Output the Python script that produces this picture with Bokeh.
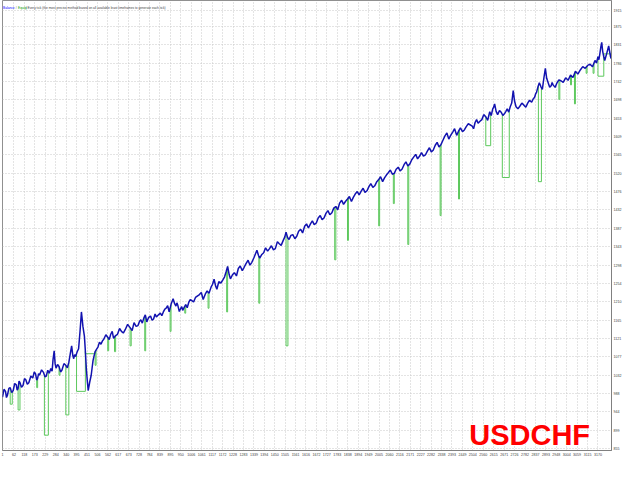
import numpy as np
from bokeh.plotting import figure
from bokeh.models import Range1d, FixedTicker, Label
from bokeh.embed import file_html
from bokeh.resources import INLINE

# ---- data ----
bal_trade = [
    1, 9, 17, 22, 27, 35, 42, 50, 58, 66, 74, 79, 84, 89, 94, 102, 110, 118, 125, 133,
    141, 152, 162, 170, 177, 183, 188, 193, 198, 209, 219, 227, 234, 242, 250, 258, 265, 270, 276, 281,
    286, 294, 302, 310, 317, 328, 338, 346, 354, 362, 369, 375, 380, 385, 390, 398, 406, 414, 421, 429,
    437, 442, 447, 452, 457, 465, 473, 478, 483, 489, 494, 502, 509, 517, 525, 533, 540, 551, 561, 569,
    577, 585, 592, 603, 613, 624, 634, 644, 654, 667, 680, 691, 701, 712, 722, 730, 737, 745, 753, 761,
    769, 779, 789, 797, 805, 813, 820, 831, 841, 849, 857, 865, 872, 880, 888, 899, 909, 917, 924, 929,
    934, 942, 950, 955, 960, 968, 976, 984, 992, 1000, 1007, 1018, 1028,
    1049, 1059, 1069, 1080, 1090, 1100, 1111, 1119, 1127, 1135, 1142, 1152, 1163, 1173, 1183, 1191, 1199, 1207, 1214, 1225,
    1235, 1246, 1256, 1266, 1277, 1287, 1297, 1308, 1318, 1328, 1339, 1347, 1355, 1363, 1370, 1381, 1391, 1401, 1412, 1422,
    1432, 1443, 1453, 1464, 1474, 1484, 1495, 1503, 1510, 1518, 1526, 1536, 1546, 1557, 1567, 1577, 1588, 1598, 1609, 1619,
    1629, 1640, 1650, 1660, 1671, 1681, 1692, 1702, 1712, 1723, 1733, 1743, 1754, 1764, 1775, 1785, 1795, 1806, 1816, 1826,
    1837, 1847, 1858, 1868, 1878, 1889, 1899, 1910, 1920, 1930, 1941, 1951, 1961, 1972, 1982, 1993, 2003, 2013, 2024, 2034,
    2044, 2055, 2065, 2076, 2086, 2096, 2107, 2117, 2127, 2138, 2148, 2158, 2169, 2179, 2190, 2200, 2210, 2221, 2231, 2241,
    2252, 2262, 2273, 2283, 2293, 2304, 2314, 2324, 2335, 2345, 2355, 2366, 2376, 2386, 2397, 2407, 2418, 2428, 2438, 2449,
    2459, 2469, 2480,
    2501, 2508, 2516, 2524, 2532, 2542, 2552, 2562, 2573, 2583, 2594, 2602, 2610, 2615, 2620, 2628, 2636, 2646, 2656, 2664,
    2672, 2680, 2687, 2695, 2703, 2711, 2719, 2726, 2734, 2744, 2755, 2765, 2776, 2786, 2796, 2806, 2817, 2825, 2833, 2838,
    2843, 2850, 2858, 2866, 2874, 2882, 2890, 2897, 2905, 2913, 2921, 2926, 2931, 2942, 2952, 2962, 2973, 2985, 2998, 3011,
    3024, 3037, 3050, 3063, 3076, 3089, 3102, 3115, 3128, 3141, 3154, 3162, 3170, 3175, 3180, 3185, 3190, 3195, 3201,
    3206, 3216, 3227, 3237, 3240]
bal_value = [
    979, 998, 993, 978, 983, 1000, 1002, 990, 995, 1012, 1009, 996, 1000, 1018, 1014, 1003, 1007, 1024, 1021, 1010,
    1014, 1030, 1025, 1040, 1035, 1020, 1025, 1036, 1032, 1045, 1039, 1028, 1030, 1044, 1037, 1048, 1042, 1070, 1091, 1060,
    1049, 1058, 1053, 1040, 1044, 1060, 1056, 1050, 1063, 1085, 1103, 1080, 1072, 1082, 1077, 1088, 1096, 1140, 1185, 1150,
    1126, 1090, 1049, 1020, 995, 1015, 1032, 1050, 1068, 1080, 1089, 1095, 1100, 1112, 1107, 1115, 1119, 1130, 1124, 1118,
    1131, 1138, 1121, 1128, 1131, 1145, 1138, 1134, 1142, 1155, 1147, 1140, 1159, 1150, 1152, 1162, 1166, 1158, 1170, 1178,
    1161, 1172, 1175, 1165, 1168, 1180, 1173, 1178, 1182, 1176, 1185, 1192, 1194, 1200, 1185, 1205, 1217, 1205, 1199, 1207,
    1201, 1186, 1194, 1198, 1189, 1196, 1203, 1195, 1208, 1215, 1213, 1209, 1220,
    1227, 1232, 1215, 1228, 1236, 1230, 1245, 1252, 1264, 1248, 1240, 1258, 1255, 1262, 1270, 1282, 1295, 1276, 1265, 1275,
    1280, 1272, 1290, 1296, 1285, 1293, 1302, 1310, 1298, 1305, 1316, 1325, 1334, 1322, 1315, 1324, 1328, 1340, 1332, 1338,
    1345, 1335, 1338, 1355, 1350, 1346, 1358, 1366, 1378, 1365, 1360, 1370, 1372, 1362, 1368, 1380, 1385, 1376, 1392, 1398,
    1388, 1398, 1405, 1396, 1400, 1412, 1418, 1408, 1412, 1424, 1430, 1420, 1425, 1436, 1440, 1432, 1448, 1455, 1445, 1452,
    1458, 1464, 1452, 1462, 1470, 1476, 1468, 1477, 1484, 1474, 1478, 1488, 1495, 1486, 1490, 1500, 1505, 1512, 1500, 1509,
    1516, 1522, 1528, 1518, 1520, 1530, 1535, 1526, 1530, 1541, 1548, 1538, 1543, 1553, 1560, 1566, 1555, 1562, 1570, 1562,
    1565, 1574, 1582, 1572, 1576, 1588, 1595, 1584, 1590, 1600, 1610, 1618, 1603, 1612, 1620, 1628, 1612, 1622, 1630, 1621,
    1625, 1633, 1640,
    1634, 1628, 1643, 1650, 1641, 1646, 1650, 1662, 1657, 1648, 1669, 1660, 1676, 1680, 1688, 1670, 1662, 1672, 1667, 1660,
    1664, 1670, 1676, 1668, 1681, 1690, 1720, 1695, 1681, 1676, 1683, 1690, 1685, 1680, 1690, 1697, 1692, 1700, 1704, 1712,
    1716, 1728, 1739, 1730, 1723, 1750, 1774, 1750, 1739, 1728, 1732, 1740, 1734, 1728, 1739, 1746, 1744, 1740, 1751, 1745,
    1758, 1752, 1767, 1760, 1770, 1778, 1774, 1781, 1784, 1778, 1793, 1787, 1802, 1795, 1809, 1825, 1837, 1815, 1802,
    1793, 1809, 1828, 1802, 1798]

dip_start = [42, 84, 183, 224, 302, 338, 395, 442, 494, 561, 597, 680, 758, 893, 971,
             1095, 1194, 1365, 1510, 1769, 1837, 2003, 2081, 2158, 2330, 2428,
             2573, 2661, 2853, 2962, 3024, 3045, 3107, 3144, 3170, 3201]
dip_end = [53, 94, 188, 245, 307, 354, 442, 494, 499, 566, 603, 686, 763, 898, 976,
           1100, 1199, 1370, 1520, 1775, 1842, 2008, 2086, 2163, 2335, 2433,
           2599, 2698, 2869, 2967, 3029, 3050, 3112, 3149, 3201, 3240]
dip_low = [962, 948, 1002, 887, 1032, 936, 993, 1084, 1056, 1091, 1089, 1103, 1091, 1138, 1182,
           1194, 1185, 1206, 1103, 1311, 1358, 1393, 1447, 1348, 1418, 1458,
           1587, 1510, 1500, 1699, 1734, 1688, 1762, 1762, 1755, 1809]

xtick_values = [1, 62, 118, 173, 229, 284, 340, 395, 451, 506, 562, 617, 673, 728, 784, 839, 895, 950,
                1006, 1061, 1117, 1172, 1228, 1283, 1339, 1394, 1450, 1505, 1561, 1616, 1672, 1727, 1783,
                1838, 1894, 1949, 2005, 2060, 2116, 2171, 2227, 2282, 2338, 2393, 2449, 2504, 2560, 2615,
                2671, 2726, 2782, 2837, 2893, 2948, 3004, 3059, 3115, 3170]
ytick_values = [855, 899, 944, 988, 1032, 1077, 1121, 1165, 1210, 1254, 1298, 1343, 1387, 1432, 1476,
                1520, 1565, 1609, 1653, 1698, 1742, 1786, 1831, 1875, 1915]

title_parts = ["Balance", " / ", "Equity", " / Every tick (the most precise method based on all available least timeframes to generate each tick)"]
symbol = "USDCHF"

# ---- figure ----
p = figure(width=624, height=464, output_backend="svg", toolbar_location=None,
           x_range=Range1d(1, 3242), y_range=Range1d(850, 1938),
           y_axis_location="right",
           min_border_left=2, min_border_top=0, min_border_right=13, min_border_bottom=14)
p.outline_line_color = "#909090"
p.background_fill_color = "white"

for ax in (p.xaxis[0], p.yaxis[0]):
    ax.axis_line_color = "#808080"
    ax.major_tick_line_color = None
    ax.minor_tick_line_color = None
    ax.major_tick_out = 0
    ax.major_tick_in = 0
    ax.major_label_standoff = 2
    ax.major_label_text_font = "Liberation Sans"
    ax.major_label_text_font_size = "3.6px"
    ax.major_label_text_color = "#404040"
p.xaxis.ticker = FixedTicker(ticks=xtick_values)
p.yaxis.ticker = FixedTicker(ticks=ytick_values)

p.xgrid.ticker = FixedTicker(ticks=xtick_values)
p.ygrid.ticker = FixedTicker(ticks=ytick_values)
for g in (p.xgrid[0], p.ygrid[0]):
    g.grid_line_color = "#c8c8c8"
    g.grid_line_dash = "1 2"
    g.grid_line_width = 1

# equity (green): same as balance except the drawdowns
bt = np.array(bal_trade, dtype=float)
bv = np.array(bal_value, dtype=float)
xs, ys = [], []
for s, e, low in zip(dip_start, dip_end, dip_low):
    xs.append([s, s, e, e])
    ys.append([float(np.interp(s, bt, bv)), low, low, float(np.interp(e, bt, bv))])
p.multi_line(xs, ys, line_color="#5cc85c", line_width=1)
p.line(bal_trade, bal_value, line_color="#1212b0", line_width=1.5)

# header text
hx = [4, 71, 84, 125]
hcol = ["#0000ff", "#606060", "#00a000", "#404040"]
for t, x, c in zip(title_parts, hx, hcol):
    p.add_layout(Label(x=x, y=1920, text=t, text_font="Liberation Sans", text_font_size="3.2px",
                       text_color=c, text_baseline="alphabetic"))

p.add_layout(Label(x=2485, y=887, text=symbol, text_font="Liberation Sans", text_font_size="29px",
                   text_font_style="bold", text_color="#ff0000", text_baseline="alphabetic"))

open("out.html", "w").write(file_html(p, INLINE))
